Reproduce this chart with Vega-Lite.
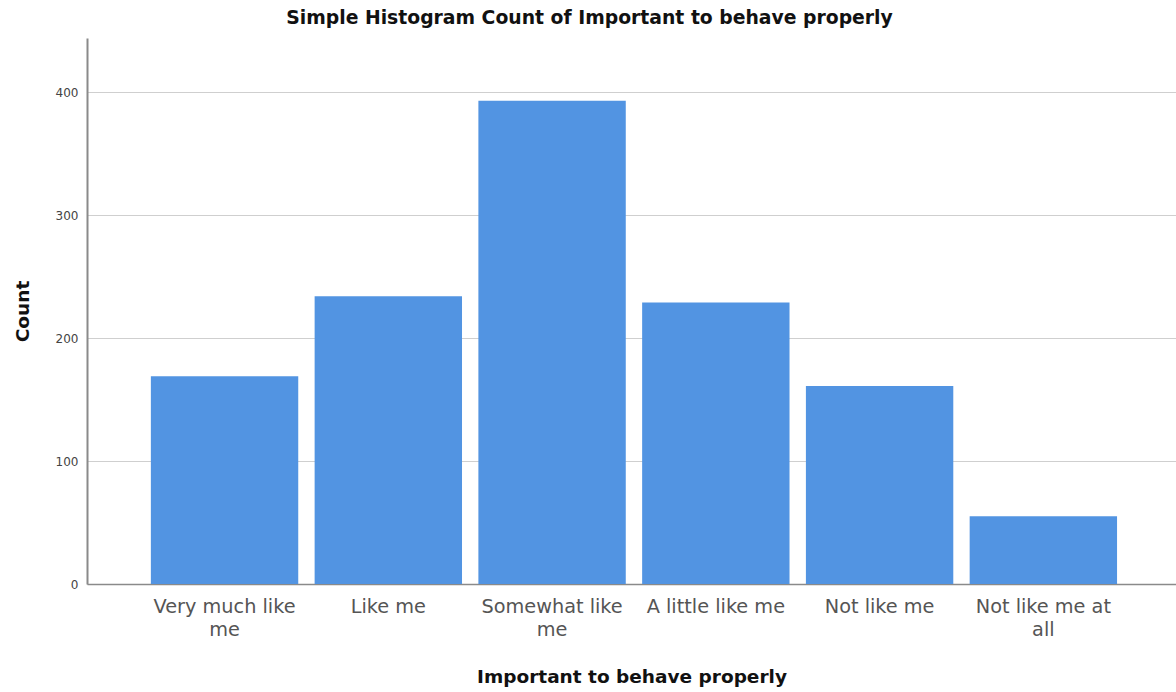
{
  "$schema": "https://vega.github.io/schema/vega-lite/v6.json",
  "width": 1089,
  "height": 546,
  "autosize": {"type": "none"},
  "padding": {"left": 87, "top": 38, "right": 0, "bottom": 108},
  "background": "white",
  "title": {
    "text": "Simple Histogram Count of Important to behave properly",
    "font": "DejaVu Sans",
    "fontSize": 18.8,
    "fontWeight": "bold",
    "color": "#111111",
    "anchor": "middle",
    "dx": -42,
    "offset": 10
  },
  "data": {
    "values": [
      {"category": "Very much like me", "count": 169},
      {"category": "Like me", "count": 234},
      {"category": "Somewhat like me", "count": 393},
      {"category": "A little like me", "count": 229},
      {"category": "Not like me", "count": 161},
      {"category": "Not like me at all", "count": 55}
    ]
  },
  "config": {
    "view": {"stroke": null},
    "font": "DejaVu Sans"
  },
  "mark": {"type": "bar", "color": "#5294e2"},
  "encoding": {
    "x": {
      "field": "category",
      "type": "nominal",
      "sort": null,
      "scale": {"paddingInner": 0.1, "paddingOuter": 0.375, "align": 0.52},
      "axis": {
        "title": "Important to behave properly",
        "titleFont": "DejaVu Sans",
        "titleFontSize": 18.5,
        "titleFontWeight": "bold",
        "titleColor": "#111111",
        "titlePadding": 28,
        "labelAngle": 0,
        "labelFont": "DejaVu Sans",
        "labelFontSize": 19.3,
        "labelColor": "#555555",
        "labelPadding": 13,
        "labelLineHeight": 23,
        "labelLimit": 0,
        "labelExpr": "datum.value == 'Very much like me' ? ['Very much like', 'me'] : datum.value == 'Somewhat like me' ? ['Somewhat like', 'me'] : datum.value == 'Not like me at all' ? ['Not like me at', 'all'] : datum.value",
        "ticks": false,
        "domainColor": "#8a8a8a",
        "domainWidth": 1.5,
        "grid": false
      }
    },
    "y": {
      "field": "count",
      "type": "quantitative",
      "scale": {"domain": [0, 444], "nice": false},
      "axis": {
        "title": "Count",
        "titleFont": "DejaVu Sans",
        "titleFontSize": 18.5,
        "titleFontWeight": "bold",
        "titleColor": "#111111",
        "titlePadding": 23,
        "values": [0, 100, 200, 300, 400],
        "labelFont": "DejaVu Sans",
        "labelFontSize": 12,
        "labelColor": "#444444",
        "labelPadding": 9,
        "ticks": false,
        "domainColor": "#8a8a8a",
        "domainWidth": 2,
        "grid": true,
        "gridColor": "#cfcfcf",
        "gridWidth": 1
      }
    }
  }
}
